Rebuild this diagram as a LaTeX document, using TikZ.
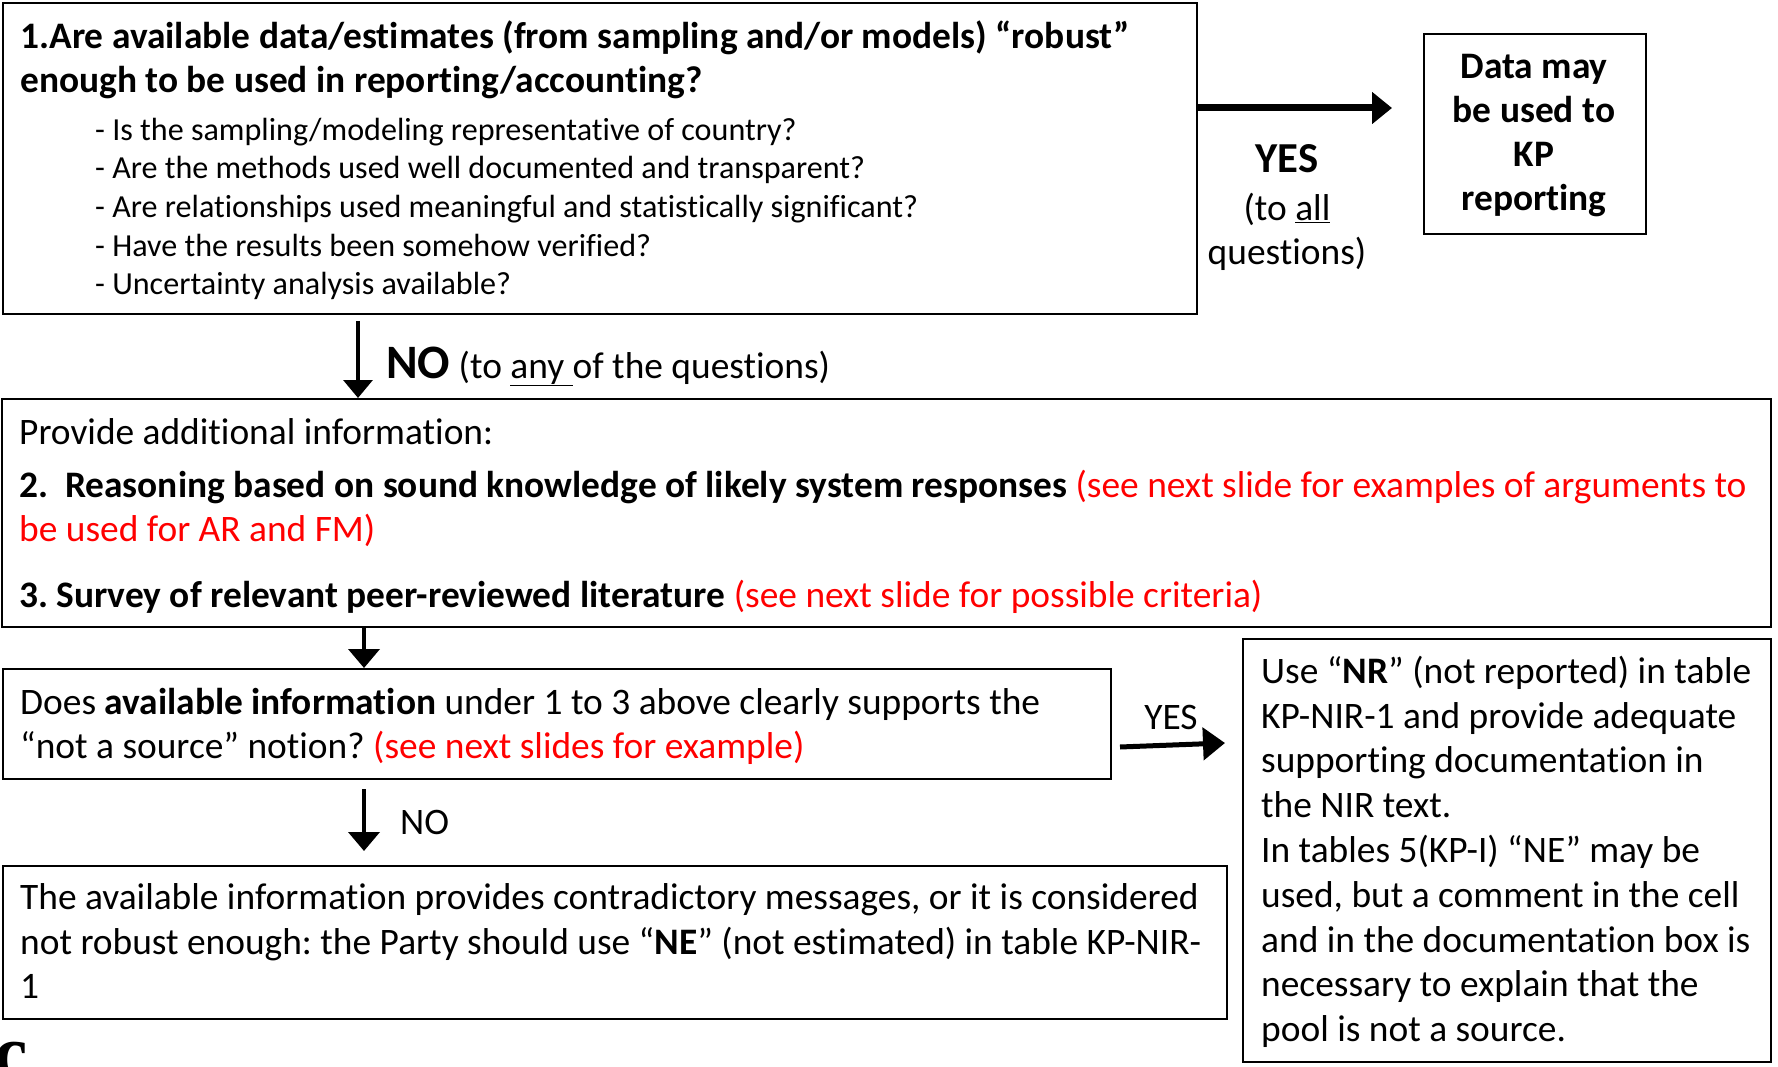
\documentclass[tikz,border=0pt]{standalone}
\usepackage{fontspec}
\setmainfont{Carlito}[Ligatures=NoCommon]
\newfontfamily\fragfont{Liberation Serif}
\usetikzlibrary{arrows.meta}
\newcommand{\fsz}[2]{\fontsize{#1pt}{#2pt}\selectfont}
\newcommand{\fl}{\rule{0pt}{32pt}}
\newcommand{\rd}[1]{\textcolor{red}{#1}}
\frenchspacing
\begin{document}
\begin{tikzpicture}[x=1pt,y=-1pt,
  box/.style={draw=black, line width=2pt, inner sep=0pt, anchor=north west},
  txt/.style={inner sep=0pt, align=left, anchor=north west, font=\fsz{37.4}{44.5}},
  lbl/.style={inner sep=0pt, font=\fsz{37.4}{44.5}},
  bigarrow/.style={line width=7pt, -{Triangle[length=20pt,width=31pt]}},
  midarrow/.style={line width=5pt, -{Triangle[length=22pt,width=32pt]}},
  downarrow/.style={line width=4pt, -{Triangle[length=19pt,width=31pt]}}]
\useasboundingbox (0,0) rectangle (1778,1067);
\fill[white] (0,0) rectangle (1778,1067);

% boxes
\node[box, minimum width=1194pt, minimum height=311pt] (b1) at (2,2) {};
\node[box, minimum width=222pt, minimum height=200pt] (bd) at (1423,33) {};
\node[box, minimum width=1769pt, minimum height=228pt] (b2) at (1,398) {};
\node[box, minimum width=1108pt, minimum height=110pt] (b3) at (2,668) {};
\node[box, minimum width=1224pt, minimum height=153pt] (b4) at (2,865) {};
\node[box, minimum width=528pt, minimum height=423pt] (b5) at (1242,638) {};

% box 1 text
\node[txt, font=\fsz{37.4}{44}\bfseries] (t1) at (20,16)
 {\fl 1.Are available data/estimates (from sampling and/or models) “robust”\\
  enough to be used in reporting/accounting?};
\node[txt, font=\fsz{32.1}{38.7}] (t1b) at (95,112)
 {\rule{0pt}{28pt}- Is the sampling/modeling representative of country?\\
  - Are the methods used well documented and transparent?\\
  - Are relationships used meaningful and statistically significant?\\
  - Have the results been somehow verified?\\
  - Uncertainty analysis available?};

% YES (top)
\coordinate (yt) at (1392,108);
\draw[bigarrow] (b1.east |- yt) -- (yt);
\node[inner sep=0pt, anchor=base, font=\fsz{42.7}{50}\bfseries] (yes1) at (1287,173) {YES};
\node[txt, align=center, anchor=north] (toall) at (1287,188)
 {\fl (to \underline{all}\\questions)};

% data box text
\node[txt, align=center, anchor=north, font=\fsz{37.4}{44}\bfseries] (td) at (1534,46)
 {\fl Data may\\be used to\\KP\\reporting};

% NO (top)
\coordinate (n1) at (358,321);
\draw[line width=3.5pt, -{Triangle[length=18pt,width=29pt]}] (n1) -- (n1 |- b2.north);
\node[inner sep=0pt, anchor=base west, font=\fsz{37.4}{44.5}] (no1) at (386,378)
 {{\fsz{48}{56}\bfseries NO} (to \underline{any }of the questions)};

% box 2 text
\node[txt] (t2) at (19,412.5)
 {\fl Provide additional information:\\[8pt]
  \textbf{2.\hspace{17pt}Reasoning based on sound knowledge of likely system responses} \rd{(see next slide for examples of arguments to}\\
  \rd{be used for AR and FM)}\\[21pt]
  \textbf{3. Survey of relevant peer-reviewed literature} \rd{(see next slide for possible criteria)}};

% arrow box2 -> box3
\coordinate (c23) at (364,0);
\draw[downarrow] (b2.south -| c23) -- (b3.north -| c23);

% box 3 text
\node[txt] (t3) at (20,682)
 {\fl Does \textbf{available information} under 1 to 3 above clearly supports the\\
  “not a source” notion? \rd{(see next slides for example)}};

% YES (middle)
\coordinate (y2a) at (1120,747);
\coordinate (y2b) at (1225,743);
\draw[midarrow] (y2a) -- (y2b);
\node[lbl, anchor=base] (yes2) at (1171,729) {YES};

% NO (middle)
\coordinate (n2a) at (364,789);
\coordinate (n2b) at (364,851);
\draw[downarrow] (n2a) -- (n2b);
\node[lbl, anchor=base west] (no2) at (400,834) {NO};

% box 4 text
\node[txt] (t4) at (20,877.5)
 {\fl The available information provides contradictory messages, or it is considered\\
  not robust enough: the Party should use “\textbf{NE}” (not estimated) in table KP-NIR-\\
  1};

% box 5 text
\node[txt, font=\fsz{37.4}{44.8}] (t5) at (1261,651)
 {\fl Use “\textbf{NR}” (not reported) in table\\
  KP-NIR-1 and provide adequate\\
  supporting documentation in\\
  the NIR text.\\
  In tables 5(KP-I) “NE” may be\\
  used, but a comment in the cell\\
  and in the documentation box is\\
  necessary to explain that the\\
  pool is not a source.};

% cut-off fragment at the bottom edge
\begin{scope}
\clip (0,1038) rectangle (40,1067);
\node[inner sep=0pt, anchor=north west, font=\fragfont\fsz{75}{80}\bfseries] (frag) at (-6,1042) {c};
\end{scope}
\end{tikzpicture}
\end{document}
